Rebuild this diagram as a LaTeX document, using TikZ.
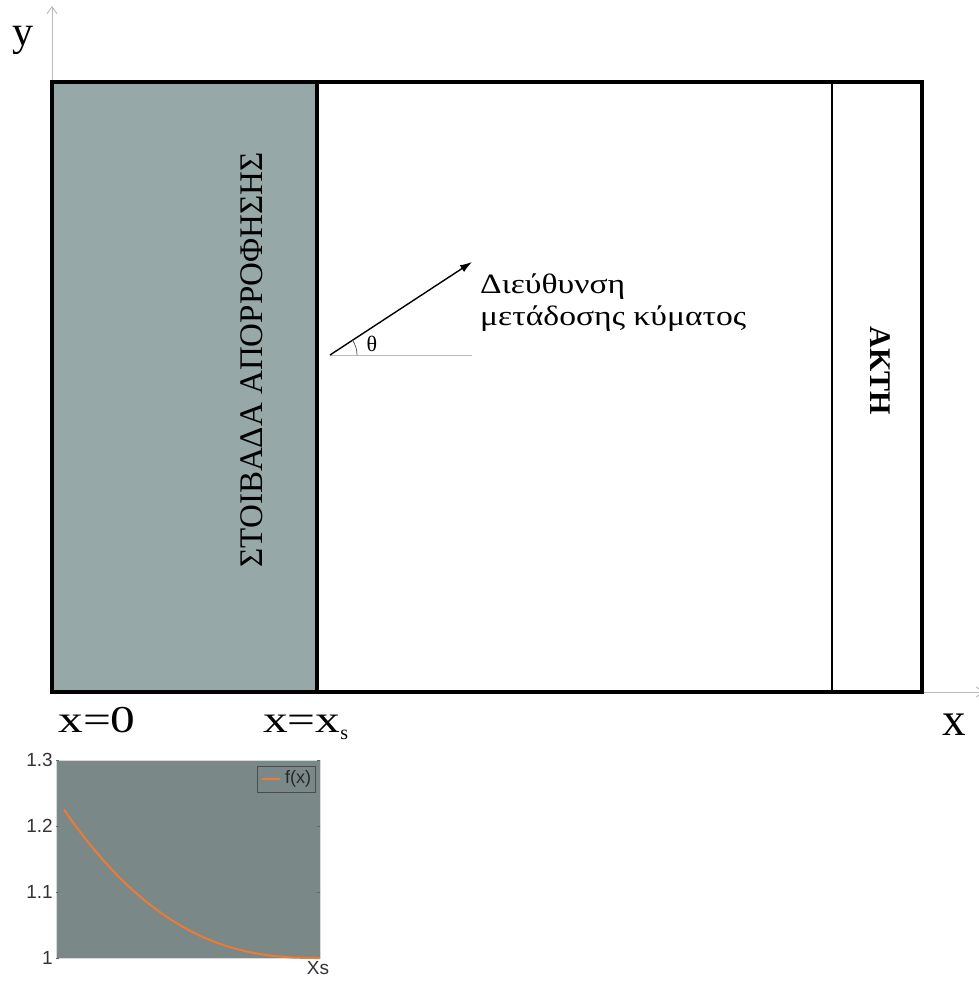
\documentclass[tikz,border=0pt]{standalone}
\usepackage{fontspec}
\setmainfont{Liberation Serif}
\newfontfamily\plotfont{Liberation Sans}
\usetikzlibrary{arrows.meta,calc}
\definecolor{layergray}{RGB}{151,168,168}
\definecolor{plotbg}{RGB}{122,137,135}
\definecolor{curveor}{RGB}{238,122,52}
\definecolor{axisgray}{RGB}{185,185,185}
\tikzset{
  thickline/.style={line width=3.5pt},
  thinline/.style={line width=1.6pt},
  axisline/.style={draw=axisgray, line width=0.9pt},
  biglbl/.style={font=\fontsize{38}{38}\selectfont, inner sep=0pt},
  greeklbl/.style={font=\fontsize{28}{32}\selectfont, inner sep=0pt, align=left},
  ticklbl/.style={font=\plotfont\fontsize{19}{19}\selectfont, inner sep=0pt, anchor=east, text=black!80},
}
\begin{document}
\begin{tikzpicture}[x=1pt,y=-1pt]
\clip (0,0) rectangle (979,982);
\fill[white] (0,0) rectangle (979,982);
% axes
\coordinate (yb) at (52,82);
\coordinate (yt) at (52,6);
\coordinate (xb) at (922,692);
\coordinate (xt) at (984,692);
\draw[axisline,-{Straight Barb[length=7pt,width=10pt]}] (yb) -- (yt);
\draw[axisline,-{Straight Barb[length=7pt,width=10pt]}] (xb) -- (xt);
% layer
\fill[layergray] (52,82) rectangle (317,692);
\draw[thickline] (52,82) rectangle (922,692);
\draw[thickline] (317,82) -- (317,692);
\draw[thinline] (832,82) -- (832,692);
% labels
\node[font=\fontsize{42}{42}\selectfont, inner sep=0pt] (ylab) at (23,40) {y};
\node[font=\fontsize{47}{47}\selectfont, inner sep=0pt] (xlab) at (954,725) {x};
\node[biglbl, anchor=base] (x0) at (97,732) {\scalebox{1.3}[1]{x=0}};
\node[biglbl, anchor=base west] (xs) at (263,732) {\scalebox{1.3}[1]{x=x}\raisebox{-7pt}{\fontsize{20}{20}\selectfont s}};
\node[font=\fontsize{33}{33}\selectfont, rotate=90, inner sep=0pt] (layer) at (252,360) {ΣΤΟΙΒΑΔΑ ΑΠΟΡΡΟΦΗΣΗΣ};
\node[font=\bfseries\fontsize{30}{30}\selectfont, rotate=-90, inner sep=0pt] (akti) at (880,371) {ΑΚΤΗ};
% direction arrow
\coordinate (o) at (330,355);
\coordinate (h) at (472,355);
\coordinate (tip) at (472,262);
\coordinate (arcst) at (357,355);
\draw[axisline] (o) -- (h);
\draw[line width=1.4pt, -{Latex[length=12pt,width=8pt]}] (o) -- (tip);
\draw[line width=0.7pt, black!70] (arcst) arc[start angle=0, end angle=-33, radius=27];
\node[font=\fontsize{22}{22}\selectfont, inner sep=0pt] (theta) at (372,344) {θ};
\node[greeklbl, anchor=base west] (dir1) at (480,293) {\scalebox{1.2}[1]{Διεύθυνση}};
\node[greeklbl, anchor=base west] (dir2) at (480,325) {\scalebox{1.2}[1]{μετάδοσης κύματος}};
% small plot
\fill[plotbg] (56,760) rectangle (320,958);
\draw[white!85!black, line width=0.8pt] (56,760) rectangle (320,958);
\foreach \yy/\lab in {760/1.3, 826/1.2, 892/1.1, 958/1} {
  \node[ticklbl] at (53,\yy) {\lab};
  \draw[black!60, line width=0.6pt] (56,\yy) -- (59,\yy);
  \draw[black!60, line width=0.6pt] (320,\yy) -- (317,\yy);
}
\node[font=\plotfont\fontsize{19}{19}\selectfont, inner sep=0pt, text=black!80] (xslab) at (318,968) {Xs};
\draw[curveor, line width=2pt, domain=0.03:1, samples=60, smooth]
  plot ({56+264*\x}, {958-660*0.225*((1-\x)/0.97)^2.5});
\draw[black!70, line width=1pt] (257,766) rectangle (315,792);
\draw[curveor, line width=2pt] (262,779) -- (280,779);
\node[font=\plotfont\fontsize{18}{18}\selectfont, inner sep=0pt, text=black!85] (leg) at (298,779) {f(x)};
\end{tikzpicture}
\end{document}
